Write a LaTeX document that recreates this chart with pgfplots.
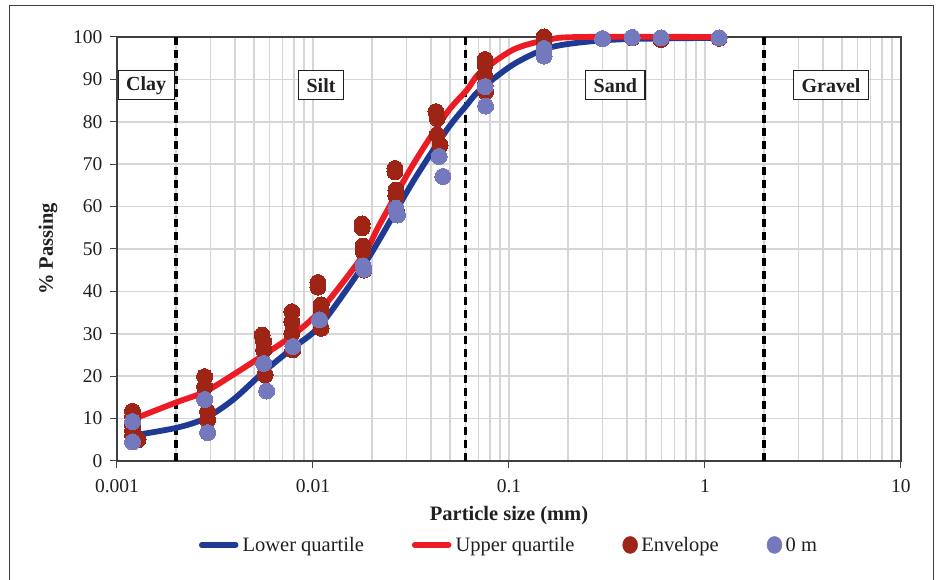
\documentclass[border=0pt]{standalone}
\usepackage{fontspec}
\setmainfont{Liberation Serif}
\usepackage{pgfplots}
\pgfplotsset{compat=1.18}
\definecolor{envred}{HTML}{9E2416}
\definecolor{zeroblue}{HTML}{7478BC}
\definecolor{lowblue}{HTML}{1F3A93}
\definecolor{upred}{HTML}{ED1C24}
\definecolor{gridgray}{HTML}{D6D6D6}
\definecolor{axgray}{HTML}{404040}
\definecolor{txt}{HTML}{231F20}
\begin{document}
\begin{tikzpicture}
\useasboundingbox (0,0) rectangle (938pt,580pt);
\draw[axgray, line width=1pt] (9.5pt,-5pt) rectangle (933pt,574.5pt);
\begin{axis}[
  at={(117pt,119pt)}, anchor=south west,
  scale only axis, width=784pt, height=424pt,
  xmode=log, xmin=0.001, xmax=10, ymin=0, ymax=100,
  xtick={0.001,0.01,0.1,1,10},
  xticklabels={0.001,0.01,0.1,1,10},
  minor xtick={0.002,0.003,0.004,0.005,0.006,0.007,0.008,0.009,0.02,0.03,0.04,0.05,0.06,0.07,0.08,0.09,0.2,0.3,0.4,0.5,0.6,0.7,0.8,0.9,2,3,4,5,6,7,8,9},
  ytick={0,10,...,100},
  xmajorgrids, xminorgrids, ymajorgrids,
  grid style={gridgray, line width=1.7pt},
  minor grid style={gridgray, line width=1.7pt},
  tick pos=left, tick align=outside,
  major tick length=7pt, minor tick length=0pt,
  tick style={axgray, line width=1pt},
  axis line style={axgray, line width=1.3pt},
  /pgf/number format/assume math mode=true,
  ticklabel style={font=\fontsize{19.5}{21}\selectfont, text=txt},
  yticklabel style={xshift=-4pt},
  xticklabel style={yshift=-8pt},
  xlabel={\textbf{Particle size (mm)}},
  ylabel={\textbf{\% Passing}},
  label style={font=\fontsize{20.5}{22}\selectfont, text=txt},
  xlabel style={at={(axis description cs:0.5,-0.1297)}, anchor=center},
  ylabel style={at={(axis description cs:-0.088,0.5)}, anchor=center},
  legend style={at={(axis description cs:0.5,-0.198)}, anchor=center, draw=none,
    font=\fontsize{20.5}{22}\selectfont, text=txt,
    /tikz/every even column/.append style={column sep=46pt}},
  legend columns=4,
  clip=false,
]
% boundary dashed lines
\addplot[black, line width=3.2pt, dash pattern=on 8pt off 5pt, forget plot] coordinates {(0.002,0)(0.002,100)};
\addplot[black, line width=3.2pt, dash pattern=on 8pt off 5pt, forget plot] coordinates {(0.06,0)(0.06,100)};
\addplot[black, line width=3.2pt, dash pattern=on 8pt off 5pt, forget plot] coordinates {(2,0)(2,100)};

\addplot[lowblue, line width=5.8pt, smooth, line cap=round,
  legend image code/.code={\draw[lowblue, line width=5.5pt, line cap=round] (0pt,0pt) -- (34pt,0pt); \path (36pt,0pt);}]
  coordinates {(0.0012,6.0)(0.002,7.8)(0.0028,10.0)(0.0039,14.4)(0.0056,21)(0.0078,26.5)(0.0109,32)(0.018,46)(0.022,52.5)(0.0325,66)(0.048,78)(0.061,84)(0.071,87.5)(0.105,93.5)(0.156,97.3)(0.23,98.7)(0.4,99.5)(1.2,99.8)};
\addlegendentry{Lower quartile}
\addplot[upred, line width=5.8pt, smooth, line cap=round,
  legend image code/.code={\draw[upred, line width=5.5pt, line cap=round] (0pt,0pt) -- (34pt,0pt); \path (36pt,0pt);}]
  coordinates {(0.0012,9.8)(0.002,13.8)(0.0028,16.3)(0.0039,20.3)(0.0056,25)(0.0078,29.5)(0.0109,35.5)(0.018,48.5)(0.022,56)(0.0325,70)(0.048,82)(0.061,87.5)(0.071,91.5)(0.105,97)(0.156,99.3)(0.23,100)(1.2,100)};
\addlegendentry{Upper quartile}
\addplot[envred, only marks, mark=*, mark size=8pt, mark options={draw=envred, fill=envred, line width=0pt},
  legend image code/.code={\fill[envred] (7pt,0pt) ellipse (7.5pt and 8.5pt); \path (16pt,0pt);}]
  coordinates {
  (0.0012,11.7)(0.0012,10.5)(0.0012,8.5)(0.0012,7.2)(0.0012,6.0)(0.00128,5.0)
  (0.0028,19.9)(0.0028,17.5)(0.0029,11.6)(0.0029,9.7)
  (0.0055,29.7)(0.0056,28.1)(0.0056,26.2)(0.0057,20.3)
  (0.0078,35.2)(0.0078,32.8)(0.0078,30.1)(0.0079,26.2)
  (0.0106,42.1)(0.0106,41.0)(0.011,36.8)(0.011,35.2)(0.011,31.3)
  (0.0178,55.9)(0.0178,55.0)(0.018,50.7)(0.018,49.5)(0.0182,45.0)
  (0.0262,69.0)(0.0262,68.2)(0.0265,63.9)(0.0265,62.5)(0.0268,58.5)
  (0.0424,82.4)(0.043,80.8)(0.043,76.9)(0.0445,74.5)
  (0.0755,94.7)(0.0755,93.4)(0.075,91.0)(0.0755,88.5)(0.076,87.1)
  (0.151,100)(0.151,98.9)
  (0.30,99.6)(0.425,99.8)(0.597,99.4)(1.18,99.7)};
\addlegendentry{Envelope}
\addplot[zeroblue, only marks, mark=*, mark size=8pt, mark options={draw=zeroblue, fill=zeroblue, line width=0pt},
  legend image code/.code={\fill[zeroblue] (7pt,0pt) ellipse (7.5pt and 8.5pt); \path (16pt,0pt);}]
  coordinates {
  (0.0012,9.3)(0.0012,4.5)
  (0.0028,14.5)(0.0029,6.7)
  (0.0056,23.0)(0.0058,16.5)
  (0.0079,27.0)
  (0.0108,33.3)
  (0.018,46.0)(0.0182,45.2)
  (0.0265,59.6)(0.027,58.0)
  (0.044,71.8)(0.046,67.1)
  (0.0755,88.3)(0.076,83.7)
  (0.151,97.3)(0.151,95.5)
  (0.30,99.6)(0.425,99.9)(0.597,99.8)(1.18,99.8)};
\addlegendentry{0 m}

\tikzset{zone/.style={draw=txt, line width=1.2pt, fill=white, text=txt,
  font=\fontsize{20}{22}\selectfont\bfseries, inner xsep=8pt, minimum height=29pt}}
\node[zone] at (axis cs:0.00141,88.6) {Clay};
\node[zone] at (axis cs:0.01099,88.6) {Silt};
\node[zone] at (axis cs:0.349,88.6) {Sand};
\node[zone] at (axis cs:4.40,88.6) {Gravel};
\end{axis}
\end{tikzpicture}
\end{document}
